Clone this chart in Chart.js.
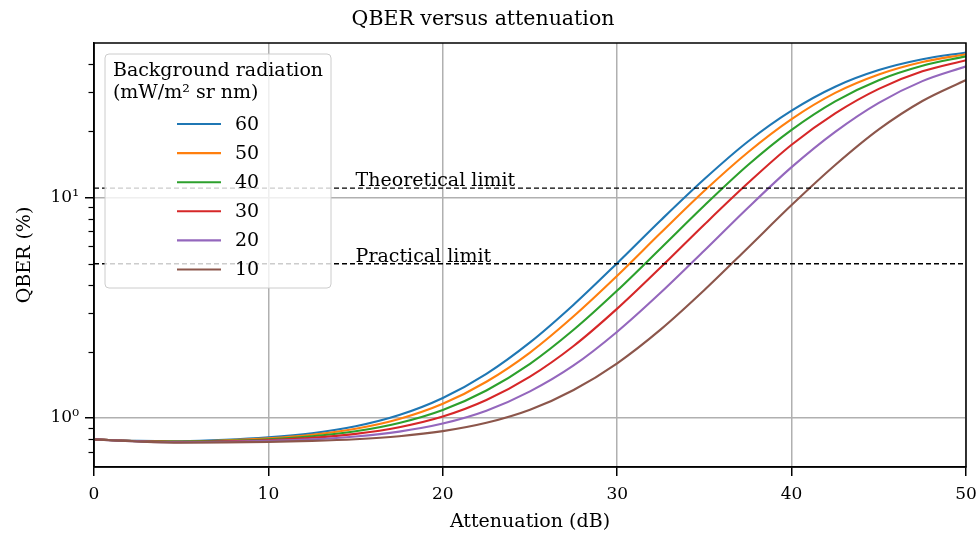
<!DOCTYPE html>
<html>
<head>
<meta charset="utf-8">
<script src="https://cdn.jsdelivr.net/npm/chart.js@4/dist/chart.umd.min.js"></script>
<style>
  html, body { margin: 0; padding: 0; background: #fff; }
  #qber { display: block; }
</style>
</head>
<body>
<canvas id="qber" width="979" height="535"></canvas>
<script>
// Attenuation steps (dB), every 2.5 dB
var attenuation = [0, 2.5, 5, 7.5, 10, 12.5, 15, 17.5, 20, 22.5, 25, 27.5, 30, 32.5, 35, 37.5, 40, 42.5, 45, 47.5, 50];

// Background radiation (mW/m2 sr nm), one curve each
var radiation = ['60', '50', '40', '30', '20', '10'];

// QBER (%) per radiation level
var qber60 = [0.800, 0.788, 0.786, 0.796, 0.817, 0.853, 0.917, 1.031, 1.232, 1.585, 2.20, 3.26, 5.03, 7.87, 12.1, 17.9, 24.7, 31.7, 37.7, 42.2, 45.3];
var qber50 = [0.800, 0.787, 0.783, 0.792, 0.809, 0.840, 0.894, 0.990, 1.160, 1.460, 1.98, 2.89, 4.41, 6.90, 10.7, 16.0, 22.6, 29.7, 36.0, 41.0, 44.5];
var qber40 = [0.800, 0.786, 0.781, 0.788, 0.802, 0.827, 0.871, 0.950, 1.088, 1.333, 1.76, 2.51, 3.78, 5.88, 9.18, 14.0, 20.2, 27.2, 33.9, 39.4, 43.5];
var qber30 = [0.800, 0.785, 0.779, 0.784, 0.795, 0.814, 0.848, 0.909, 1.016, 1.207, 1.54, 2.12, 3.13, 4.82, 7.53, 11.6, 17.3, 24.0, 31.0, 37.2, 41.8];
var qber20 = [0.800, 0.784, 0.777, 0.780, 0.788, 0.801, 0.825, 0.868, 0.944, 1.079, 1.32, 1.73, 2.46, 3.70, 5.74, 8.97, 13.7, 19.8, 26.8, 33.6, 39.2];
var qber10 = [0.800, 0.783, 0.774, 0.776, 0.780, 0.788, 0.802, 0.827, 0.872, 0.951, 1.09, 1.34, 1.77, 2.52, 3.80, 5.91, 9.22, 14.0, 20.3, 27.3, 34.0];

// Horizontal limits (%)
var theoreticalLimit = 11;
var practicalLimit = 5;

// Axis ticks
var xTicks = [0, 10, 20, 30, 40, 50];
var yMajorTicks = [1, 10];
var yMinorTicks = [0.7, 0.8, 0.9, 2, 3, 4, 5, 6, 7, 8, 9, 20, 30, 40];

var series = [qber60, qber50, qber40, qber30, qber20, qber10];
var colors = ['#1f77b4', '#ff7f0e', '#2ca02c', '#d62728', '#9467bd', '#8c564b'];
var serif = '"DejaVu Serif", serif';

function pairs(ys) {
    return attenuation.map(function (x, i) { return { x: x, y: ys[i] }; });
}

function flat(v) {
    return [{ x: attenuation[0], y: v }, { x: attenuation[attenuation.length - 1], y: v }];
}

var datasets = series.map(function (ys, i) {
    return {
        label: radiation[i],
        data: pairs(ys),
        borderColor: colors[i],
        borderWidth: 2.1,
        pointRadius: 0,
        cubicInterpolationMode: 'monotone',
        order: 10 - i
    };
});

[theoreticalLimit, practicalLimit].forEach(function (v) {
    datasets.push({
        label: 'limit',
        data: flat(v),
        borderColor: '#000',
        borderWidth: 1.3,
        borderDash: [5, 3],
        pointRadius: 0,
        order: 0
    });
});

// frame, minor ticks, limit labels and the legend box, matplotlib style
var extras = {
    id: 'extras',
    afterDatasetsDraw: function (chart) {
        var ctx = chart.ctx, a = chart.chartArea;
        var xs = chart.scales.x, ys = chart.scales.y;
        ctx.save();

        // limit labels
        ctx.font = '19px ' + serif;
        ctx.fillStyle = '#000';
        ctx.textAlign = 'left';
        ctx.textBaseline = 'alphabetic';
        ctx.fillText('Theoretical limit', xs.getPixelForValue(15), ys.getPixelForValue(theoreticalLimit) - 2);
        ctx.fillText('Practical limit', xs.getPixelForValue(15), ys.getPixelForValue(practicalLimit) - 2);

        // legend box
        var bx = a.left + 11, by = a.top + 11, bw = 226, bh = 234, r = 4;
        ctx.beginPath();
        ctx.moveTo(bx + r, by);
        ctx.arcTo(bx + bw, by, bx + bw, by + bh, r);
        ctx.arcTo(bx + bw, by + bh, bx, by + bh, r);
        ctx.arcTo(bx, by + bh, bx, by, r);
        ctx.arcTo(bx, by, bx + bw, by, r);
        ctx.closePath();
        ctx.fillStyle = 'rgba(255,255,255,0.8)';
        ctx.fill();
        ctx.strokeStyle = '#cccccc';
        ctx.lineWidth = 1;
        ctx.stroke();

        ctx.fillStyle = '#000';
        var t1 = 'Background radiation', t2 = '(mW/m\u00b2 sr nm)';
        var tw = Math.max(ctx.measureText(t1).width, ctx.measureText(t2).width);
        var cx = bx + bw / 2;
        ctx.fillText(t1, cx - tw / 2, by + 22);
        ctx.fillText(t2, cx - tw / 2, by + 44);

        var hx = cx - 41;
        chart.data.datasets.forEach(function (ds, i) {
            if (ds.label === 'limit') return;
            var ey = by + 70 + i * 29.1;
            ctx.strokeStyle = ds.borderColor;
            ctx.lineWidth = 2.1;
            ctx.beginPath();
            ctx.moveTo(hx, ey);
            ctx.lineTo(hx + 44, ey);
            ctx.stroke();
            ctx.textBaseline = 'middle';
            ctx.fillText(ds.label, hx + 58, ey + 1);
        });

        // frame and minor y ticks
        ctx.strokeStyle = '#000';
        ctx.lineWidth = 1.5;
        ctx.strokeRect(a.left, a.top, a.right - a.left, a.bottom - a.top);
        ctx.lineWidth = 1.2;
        yMinorTicks.forEach(function (v) {
            var py = Math.round(ys.getPixelForValue(v)) + 0.5;
            ctx.beginPath();
            ctx.moveTo(a.left - 5.5, py);
            ctx.lineTo(a.left, py);
            ctx.stroke();
        });
        ctx.restore();
    }
};

var axisGrid = {
    color: '#b0b0b0',
    lineWidth: 1.5,
    tickColor: '#000',
    tickLength: 9,
    tickWidth: 1.5
};

var chart = new Chart(document.getElementById('qber'), {
    type: 'line',
    data: { datasets: datasets },
    plugins: [extras],
    options: {
        responsive: false,
        animation: false,
        layout: { padding: { right: 13 } },
        plugins: {
            legend: { display: false },
            tooltip: { enabled: false },
            title: {
                display: true,
                text: 'QBER versus attenuation',
                color: '#000',
                font: { family: serif, size: 20.5, weight: 'normal' },
                padding: { top: 7.7, bottom: 10.7 }
            }
        },
        scales: {
            x: {
                type: 'linear',
                min: 0,
                max: 50,
                afterBuildTicks: function (s) { s.ticks = xTicks.map(function (v) { return { value: v }; }); },
                afterFit: function (s) { s.height = 68; s.paddingLeft = 0; s.paddingRight = 0; },
                grid: axisGrid,
                border: { color: '#000', width: 1.5 },
                ticks: { color: '#000', padding: 8, maxRotation: 0, font: { family: serif, size: 17 } },
                title: {
                    display: true,
                    text: 'Attenuation (dB)',
                    color: '#000',
                    font: { family: serif, size: 19 },
                    padding: { top: 0, bottom: 1.6 }
                }
            },
            y: {
                type: 'logarithmic',
                min: 0.63,
                max: 50,
                afterBuildTicks: function (s) { s.ticks = yMajorTicks.map(function (v) { return { value: v, major: true }; }); },
                afterFit: function (s) { s.width = 94; s.paddingTop = 0; s.paddingBottom = 0; },
                grid: axisGrid,
                border: { color: '#000', width: 1.5 },
                ticks: {
                    color: '#000',
                    padding: 6,
                    font: { family: serif, size: 17 },
                    callback: function (v) { return '10' + (Math.round(Math.log10(v)) === 0 ? '\u2070' : '\u00b9'); }
                },
                title: {
                    display: true,
                    text: 'QBER (%)',
                    color: '#000',
                    font: { family: serif, size: 19 },
                    padding: { top: 13.6, bottom: 0 }
                }
            }
        }
    }
});
</script>
</body>
</html>
